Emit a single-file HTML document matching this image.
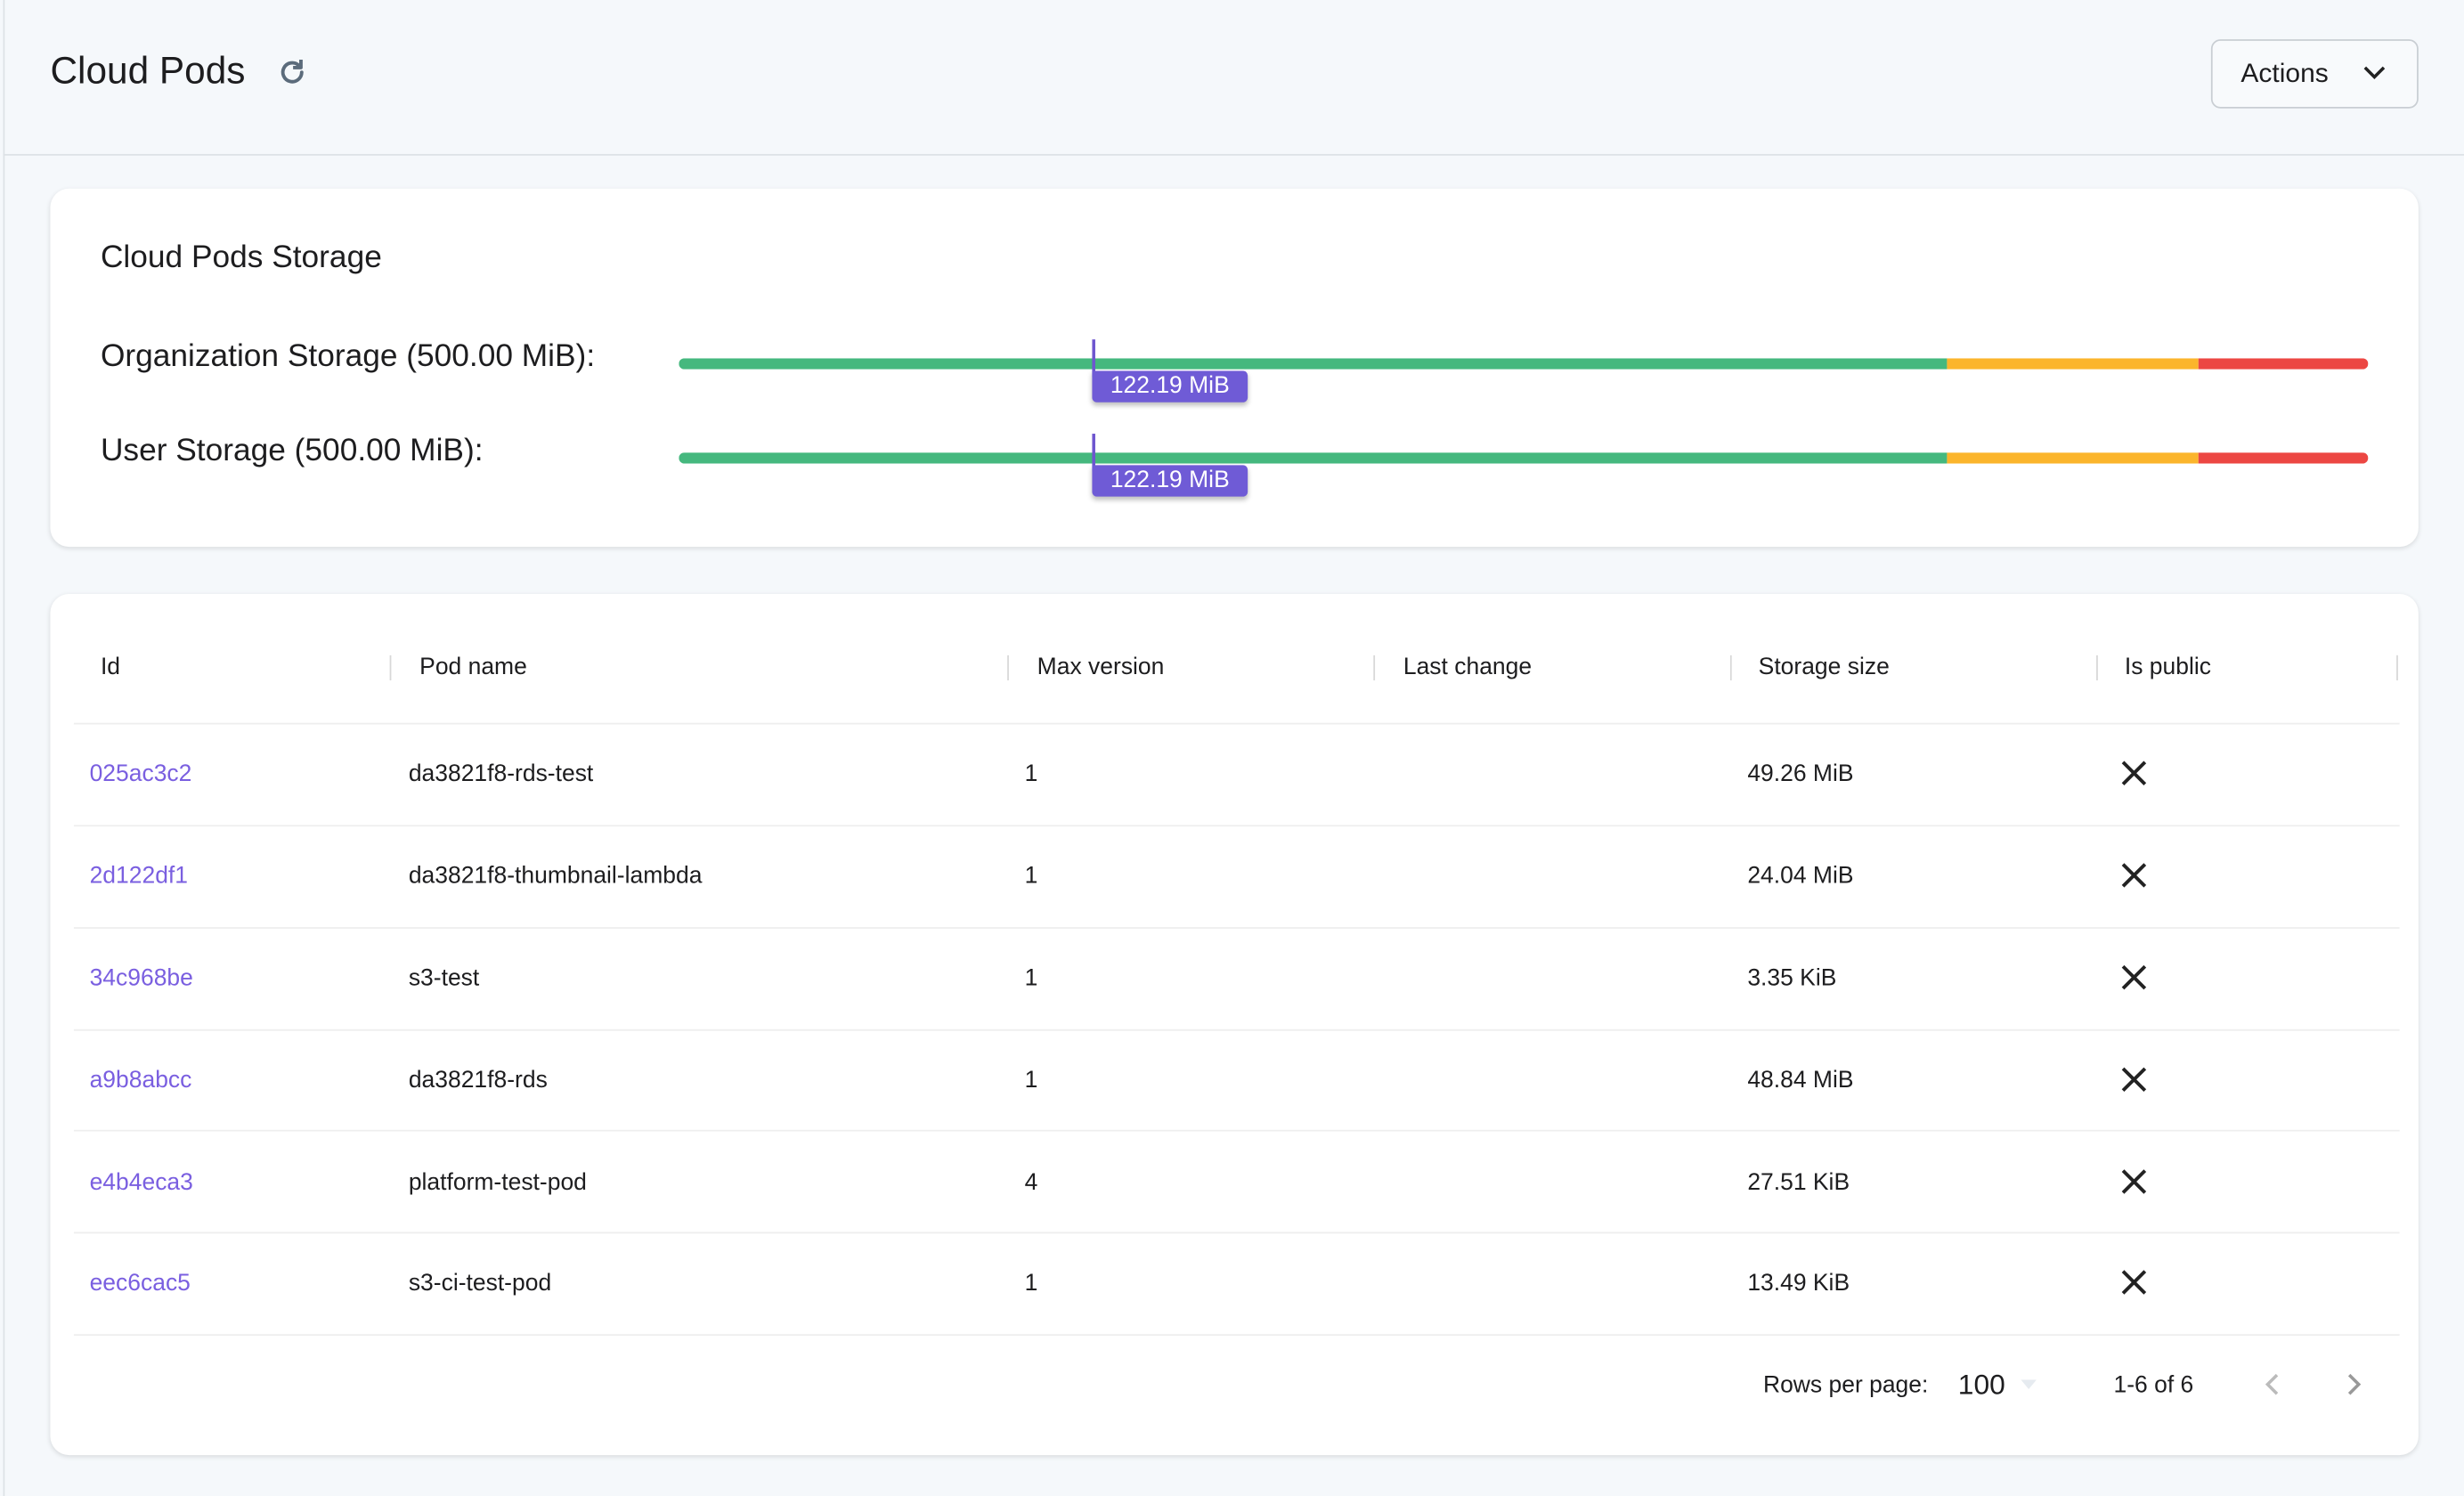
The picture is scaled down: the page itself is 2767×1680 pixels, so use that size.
<!DOCTYPE html>
<html><head><meta charset="utf-8"><style>
html,body{margin:0;padding:0;width:2767px;height:1680px;overflow:hidden;background:#f5f8fb;}
#w{position:absolute;left:0;top:0;width:1568px;height:952px;transform:scale(1.76467);transform-origin:0 0;font-family:"Liberation Sans",sans-serif;color:#1d1d1f;}
.a{position:absolute;white-space:nowrap;}
.card{position:absolute;background:#fff;border-radius:12px;box-shadow:0 1px 3px rgba(0,0,0,.12);}
.bar{position:absolute;height:7px;border-radius:4px;left:432px;width:1075px;overflow:hidden;display:flex}
.mk{position:absolute;width:2px;height:24px;background:#6e56cf}
.lb{position:absolute;background:#6f5bd6;color:#fff;font-size:15px;width:99px;height:20px;line-height:20px;text-align:center;border-radius:0 3px 3px 3px;box-shadow:0 2px 3px rgba(0,0,0,.25)}
.h{font-size:15px;top:416px}
.sep{position:absolute;top:417px;width:1px;height:16px;background:#d8d8d8}
.row{font-size:15px}
.ln{position:absolute;left:47px;width:1480px;height:1px;background:#eeeeee}
.id{color:#7a5fe0}
</style></head><body><div id="w">
<div class="a" style="left:2px;top:0;width:1px;height:952px;background:#dde2e6"></div>
<div class="a" style="left:2px;top:98px;width:1566px;height:1px;background:#dde2e6"></div>
<div class="a" style="left:32px;top:32px;font-size:24px">Cloud Pods</div>
<svg class="a" style="left:176px;top:36px" width="20" height="20" viewBox="0 0 20 20"><path d="M16 10a6 6 0 1 1-2-4.5" fill="none" stroke="#5b6b7b" stroke-width="2.2" stroke-linecap="round"/><path d="M15.5 2v5h-5" fill="none" stroke="#5b6b7b" stroke-width="2.2" stroke-linejoin="round"/></svg>
<div class="a" style="left:1407px;top:25px;width:130px;height:42px;border:1px solid #c9ced3;border-radius:6px;background:#f8fafc"></div>
<div class="a" style="left:1426px;top:37px;font-size:17px">Actions</div>
<svg class="a" style="left:1503px;top:40px" width="16" height="12"><path d="M2 3l6 6 6-6" fill="none" stroke="#222" stroke-width="2"/></svg>

<div class="card" style="left:32px;top:120px;width:1507px;height:228px"></div>
<div class="a" style="left:64px;top:153px;font-size:20px">Cloud Pods Storage</div>
<div class="a" style="left:64px;top:216px;font-size:20px">Organization Storage (500.00 MiB):</div>
<div class="a" style="left:64px;top:276px;font-size:20px">User Storage (500.00 MiB):</div>
<div class="bar" style="top:228px"><div style="width:807px;background:#45b87e"></div><div style="width:160px;background:#fbb52c"></div><div style="flex:1;background:#ec4743"></div></div>
<div class="bar" style="top:288px"><div style="width:807px;background:#45b87e"></div><div style="width:160px;background:#fbb52c"></div><div style="flex:1;background:#ec4743"></div></div>
<div class="mk" style="left:695px;top:216px"></div><div class="lb" style="left:695px;top:236px">122.19 MiB</div>
<div class="mk" style="left:695px;top:276px"></div><div class="lb" style="left:695px;top:296px">122.19 MiB</div>

<div class="card" style="left:32px;top:378px;width:1507px;height:548px"></div>
<div class="a h" style="left:64px">Id</div>
<div class="a h" style="left:267px">Pod name</div>
<div class="a h" style="left:660px">Max version</div>
<div class="a h" style="left:893px">Last change</div>
<div class="a h" style="left:1119px">Storage size</div>
<div class="a h" style="left:1352px">Is public</div>
<div class="sep" style="left:248px"></div><div class="sep" style="left:641px"></div><div class="sep" style="left:874px"></div><div class="sep" style="left:1101px"></div><div class="sep" style="left:1334px"></div><div class="sep" style="left:1525px"></div>
<div class="ln" style="top:460px"></div>
<div class="ln" style="top:525px"></div><div class="ln" style="top:590px"></div><div class="ln" style="top:655px"></div><div class="ln" style="top:719px"></div><div class="ln" style="top:784px"></div><div class="ln" style="top:849px"></div>

<div class="a row id" style="left:57px;top:484px">025ac3c2</div><div class="a row" style="left:260px;top:484px">da3821f8-rds-test</div><div class="a row" style="left:652px;top:484px">1</div><div class="a row" style="left:1112px;top:484px">49.26 MiB</div>
<div class="a row id" style="left:57px;top:549px">2d122df1</div><div class="a row" style="left:260px;top:549px">da3821f8-thumbnail-lambda</div><div class="a row" style="left:652px;top:549px">1</div><div class="a row" style="left:1112px;top:549px">24.04 MiB</div>
<div class="a row id" style="left:57px;top:614px">34c968be</div><div class="a row" style="left:260px;top:614px">s3-test</div><div class="a row" style="left:652px;top:614px">1</div><div class="a row" style="left:1112px;top:614px">3.35 KiB</div>
<div class="a row id" style="left:57px;top:679px">a9b8abcc</div><div class="a row" style="left:260px;top:679px">da3821f8-rds</div><div class="a row" style="left:652px;top:679px">1</div><div class="a row" style="left:1112px;top:679px">48.84 MiB</div>
<div class="a row id" style="left:57px;top:744px">e4b4eca3</div><div class="a row" style="left:260px;top:744px">platform-test-pod</div><div class="a row" style="left:652px;top:744px">4</div><div class="a row" style="left:1112px;top:744px">27.51 KiB</div>
<div class="a row id" style="left:57px;top:808px">eec6cac5</div><div class="a row" style="left:260px;top:808px">s3-ci-test-pod</div><div class="a row" style="left:652px;top:808px">1</div><div class="a row" style="left:1112px;top:808px">13.49 KiB</div>

<svg class="a" style="left:1350px;top:484px" width="16" height="340"><g stroke="#222" stroke-width="2.2"><path d="M1 1l14 14M15 1L1 15"/><path d="M1 66l14 14M15 66L1 80"/><path d="M1 131l14 14M15 131L1 145"/><path d="M1 196l14 14M15 196L1 210"/><path d="M1 261l14 14M15 261L1 275"/><path d="M1 325l14 14M15 325L1 339"/></g></svg>

<div class="a" style="left:1122px;top:873px;font-size:15px">Rows per page:</div>
<div class="a" style="left:1246px;top:871px;font-size:18px">100</div>
<svg class="a" style="left:1286px;top:878px" width="10" height="6"><path d="M0 0h10L5 6z" fill="#e6ebf0"/></svg>
<div class="a" style="left:1345px;top:873px;font-size:15px">1-6 of 6</div>
<svg class="a" style="left:1440px;top:873px" width="12" height="16"><path d="M9 2L3 8l6 6" fill="none" stroke="#bbb" stroke-width="2"/></svg>
<svg class="a" style="left:1492px;top:873px" width="12" height="16"><path d="M3 2l6 6-6 6" fill="none" stroke="#999" stroke-width="2"/></svg>
</div></body></html>
